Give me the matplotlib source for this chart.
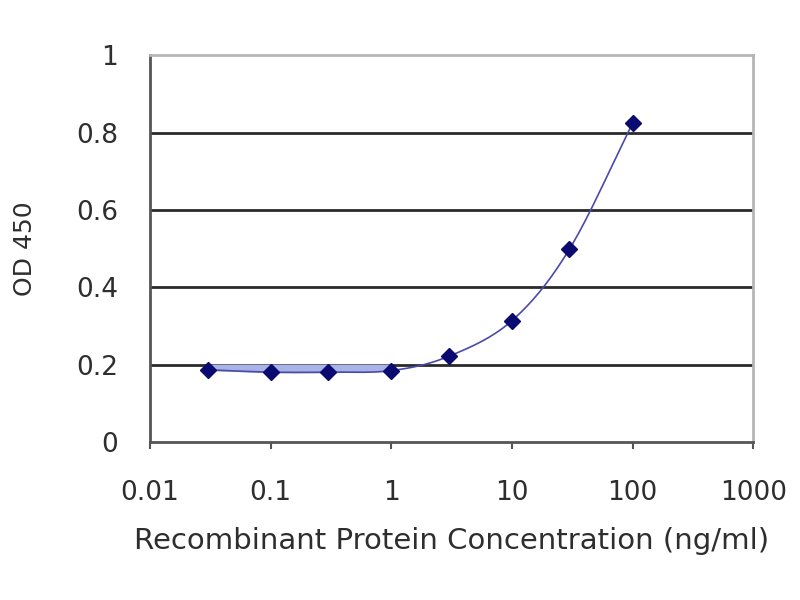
import numpy as np
import matplotlib
matplotlib.use('Agg')
import matplotlib.pyplot as plt

plt.rcParams['font.family'] = ['DejaVu Sans']

# data
conc = [0.03, 0.1, 0.3, 1, 3, 10, 30, 100]
od = [0.187, 0.181, 0.181, 0.185, 0.222, 0.314, 0.499, 0.824]
xticks = [0.01, 0.1, 1, 10, 100, 1000]
xlabels = ['0.01', '0.1', '1', '10', '100', '1000']
yticks = [0, 0.2, 0.4, 0.6, 0.8, 1]
ylabels = ['0', '0.2', '0.4', '0.6', '0.8', '1']

# smooth line like excel (catmull-rom in log x)
def smooth(xs, ys, n=20):
    lx = np.log10(xs)
    ys = np.array(ys)
    px = np.concatenate([[2*lx[0]-lx[1]], lx, [2*lx[-1]-lx[-2]]])
    py = np.concatenate([[2*ys[0]-ys[1]], ys, [2*ys[-1]-ys[-2]]])
    outx, outy = [], []
    for i in range(1, len(px)-2):
        t = np.linspace(0, 1, n)
        for p, out in ((px, outx), (py, outy)):
            p0, p1, p2, p3 = p[i-1], p[i], p[i+1], p[i+2]
            out.extend(0.5*((2*p1) + (-p0+p2)*t + (2*p0-5*p1+4*p2-p3)*t**2 + (-p0+3*p1-3*p2+p3)*t**3))
    return 10**np.array(outx), np.array(outy)

fig = plt.figure(figsize=(8, 6), dpi=100)
ax = fig.add_axes([0.1875, 0.263, 0.754, 0.645])
ax.set_xscale('log')
ax.set_xlim(0.01, 1000)
ax.set_ylim(0, 1)

for y in yticks[1:-1]:
    ax.axhline(y, color='#2a2a2a', lw=2, zorder=1)

sx, sy = smooth(conc, od)
ax.fill_between(conc[:4], od[:4], 0.2, color='#a8b4e8', zorder=2)
ax.plot(sx, sy, color='#4a4aa8', lw=1.2, zorder=3)
ax.plot(conc, od, 'D', color='#0a0a70', ms=8, zorder=4)

ax.set_xticks(xticks)
ax.set_xticklabels(xlabels)
ax.minorticks_off()
ax.set_yticks(yticks)
ax.set_yticklabels(ylabels)
ax.tick_params(axis='x', direction='out', length=5, width=1.5, color='#555555', pad=22, labelsize=19, labelcolor='#2e2e2e')
ax.tick_params(axis='y', direction='out', length=0, pad=23, labelsize=19, labelcolor='#2e2e2e')

for s in ['top', 'right']:
    ax.spines[s].set_color('#b5b5b5')
    ax.spines[s].set_linewidth(2)
for s in ['left', 'bottom']:
    ax.spines[s].set_color('#555555')
    ax.spines[s].set_linewidth(2)

ax.set_xlabel('Recombinant Protein Concentration (ng/ml)', fontsize=21, color='#2e2e2e', labelpad=15)
ax.set_ylabel('OD 450', fontsize=18, color='#2e2e2e', labelpad=28)

fig.savefig('out.png', dpi=100)
